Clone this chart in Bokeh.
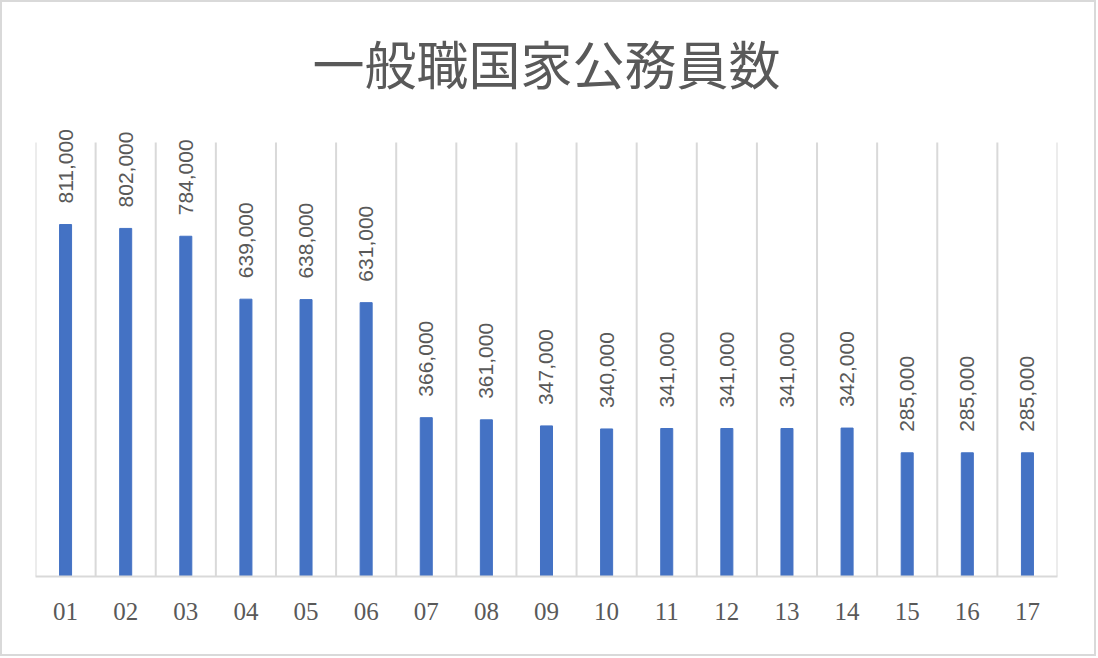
import math
from bokeh.plotting import figure
from bokeh.models import ColumnDataSource, FixedTicker, Range1d, LabelSet
from bokeh.embed import file_html
from bokeh.resources import INLINE
from bokeh.core.properties import value

categories = ["01", "02", "03", "04", "05", "06", "07", "08", "09",
              "10", "11", "12", "13", "14", "15", "16", "17"]
counts = [811000, 802000, 784000, 639000, 638000, 631000, 366000, 361000, 347000,
          340000, 341000, 341000, 341000, 342000, 285000, 285000, 285000]
axis_max = 1000000

xs = list(range(1, len(categories) + 1))
labels = [f"{v:,}" for v in counts]
src = ColumnDataSource(dict(x=xs, top=counts, label=labels))

p = figure(width=1096, height=656, output_backend="svg", toolbar_location=None,
           x_range=Range1d(0.5, len(categories) + 0.5), y_range=Range1d(0, axis_max * 1.053),
           min_border_left=33, min_border_right=41, min_border_top=117, min_border_bottom=82)
p.styles = {"border": "2px solid #d9d9d9", "box-sizing": "border-box"}

p.title.text = "一般職国家公務員数"
p.title.text_font = "Noto Sans CJK JP"
p.title.text_font_size = "52px"
p.title.text_font_style = "normal"
p.title.text_color = "#595959"
p.title.align = "center"
p.title.standoff = 40

# vertical grid lines at category boundaries, up to the axis maximum
bounds = [i + 0.5 for i in range(0, len(categories) + 1)]
p.segment(x0=bounds, y0=[0] * len(bounds), x1=bounds, y1=[axis_max] * len(bounds),
          line_color="#d9d9d9", line_width=2)

p.vbar(x="x", top="top", width=0.2, source=src, color="#4472C4")
p.add_layout(LabelSet(x="x", y="top", text="label", source=src, angle=math.pi / 2,
                      text_align="left", text_baseline="middle", y_offset=21,
                      text_font=value("Liberation Sans"), text_font_size=value("21px"),
                      text_color="#595959"))

p.outline_line_color = None
p.yaxis.visible = False
p.ygrid.visible = False
p.xgrid.visible = False

ax = p.xaxis[0]
ax.ticker = FixedTicker(ticks=xs)
ax.major_label_overrides = {x: c for x, c in zip(xs, categories)}
ax.axis_line_color = "#d9d9d9"
ax.axis_line_width = 2
ax.major_tick_line_color = None
ax.minor_tick_line_color = None
ax.major_label_text_font = "Liberation Serif"
ax.major_label_text_font_size = "25px"
ax.major_label_text_color = "#595959"
ax.major_label_standoff = 20

open("out.html", "w").write(file_html(p, INLINE))
